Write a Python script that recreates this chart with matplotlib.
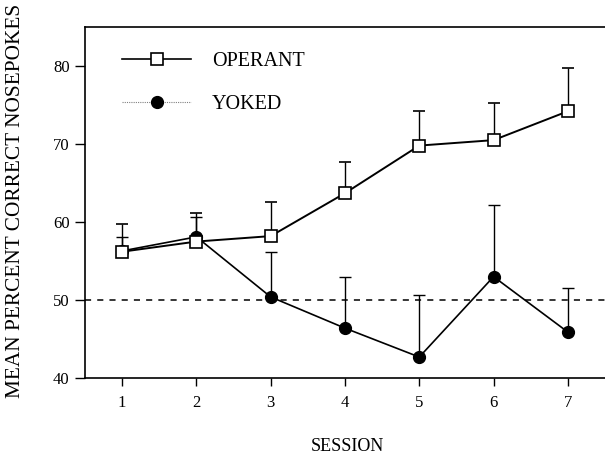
import matplotlib

matplotlib.use("Agg")
import matplotlib.pyplot as plt
from matplotlib.lines import Line2D

plt.rcParams["font.family"] = ["Liberation Serif", "DejaVu Serif"]

# data (mean % correct nosepokes, upper SEM only)
sessions = [1, 2, 3, 4, 5, 6, 7]
operant_mean = [56.2, 57.5, 58.2, 63.7, 69.8, 70.5, 74.2]
operant_top = [59.7, 61.1, 62.6, 67.7, 74.2, 75.2, 79.8]
yoked_mean = [56.3, 58.1, 50.4, 46.4, 42.7, 53.0, 45.9]
yoked_top = [58.1, 60.6, 56.2, 52.9, 50.6, 62.2, 51.5]
chance = 50

operant_err = [t - m for t, m in zip(operant_top, operant_mean)]
yoked_err = [t - m for t, m in zip(yoked_top, yoked_mean)]

fig = plt.figure(figsize=(6.05, 4.55), dpi=100)
fig.patch.set_facecolor("white")
ax = fig.add_axes([0.1405, 0.169, 0.8595, 0.7717])

ax.axhline(chance, color="black", linestyle=(0, (4, 4)), linewidth=1.1, zorder=1)

# yoked first so the open squares sit on top
ax.errorbar(sessions, yoked_mean, yerr=[[0] * 7, yoked_err], color="black",
            linewidth=1.2, elinewidth=1.0, capsize=4.5, capthick=1.0,
            marker="o", markersize=8.5, markerfacecolor="black",
            markeredgecolor="black", zorder=2)
ax.errorbar(sessions, operant_mean, yerr=[[0] * 7, operant_err], color="black",
            linewidth=1.4, elinewidth=1.0, capsize=4.5, capthick=1.0,
            marker="s", markersize=9, markerfacecolor="white",
            markeredgecolor="black", markeredgewidth=1.2, zorder=3)

ax.set_xlim(0.5, 7.5)
ax.set_ylim(40, 85)
ax.set_xticks(sessions)
ax.set_yticks([40, 50, 60, 70, 80])
ax.tick_params(axis="both", direction="out", labelsize=12, width=1.0)
ax.tick_params(axis="y", length=7, pad=4)
ax.tick_params(axis="x", length=6, pad=6)
ax.spines["right"].set_visible(False)
for s in ("left", "top", "bottom"):
    ax.spines[s].set_linewidth(1.2)

fig.text(0.575, 0.0176, "SESSION", fontsize=13, ha="center", va="center")
fig.text(0.025, 0.558, "MEAN PERCENT CORRECT NOSEPOKES", rotation=90,
         fontsize=15.3, ha="center", va="center")

handles = [
    Line2D([], [], color="black", linewidth=1.2, marker="s", markersize=9,
           markerfacecolor="white", markeredgewidth=1.2),
    Line2D([], [], color="gray", linewidth=0.8, linestyle=(0, (1, 1)),
           marker="o", markersize=8.5, markerfacecolor="black",
           markeredgecolor="black"),
]
ax.legend(handles, ["OPERANT", "YOKED"], loc="upper left",
          bbox_to_anchor=(0.037, 0.98), frameon=False, fontsize=14.5,
          handlelength=3.4, handletextpad=1.05, labelspacing=1.2)

fig.savefig("out.png", dpi=100)
